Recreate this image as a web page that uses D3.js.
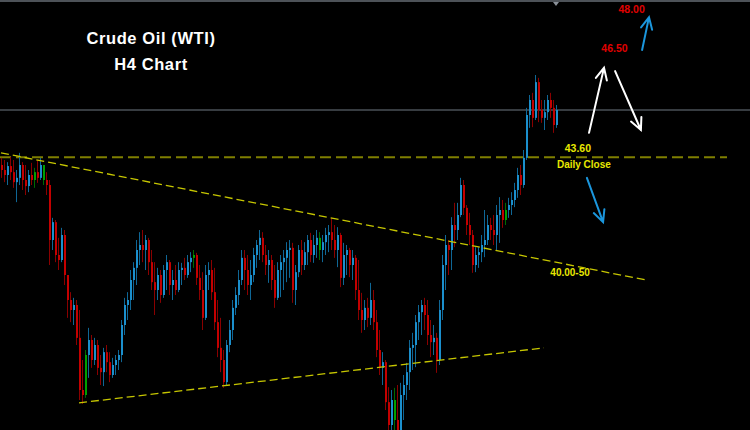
<!DOCTYPE html>
<html><head><meta charset="utf-8">
<script src="https://cdn.jsdelivr.net/npm/d3@7"></script>
<style>html,body{margin:0;padding:0;background:#000;overflow:hidden}svg{display:block}</style>
</head><body>
<svg id="c" width="750" height="430"></svg>
<script>
// ---- data (WTI crude, H4 candles) ----
const firstOpen = 43.38;
const highs = [43.58,43.52,43.46,43.60,43.52,43.24,43.72,43.46,43.38,43.24,43.44,43.30,43.52,43.58,43.38,43.18,
42.96,41.90,41.84,41.34,41.62,41.56,40.30,39.82,39.66,39.60,39.32,37.92,38.20,38.82,38.62,38.54,38.48,38.06,38.26,38.34,38.14,37.98,38.06,38.20,
39.04,39.66,39.82,40.44,40.66,41.28,41.50,41.56,41.42,41.34,41.00,40.66,40.50,40.44,40.58,40.86,40.72,40.44,40.58,40.66,
40.64,40.78,40.86,40.94,41.00,40.92,40.58,40.38,40.58,40.66,40.72,40.50,39.60,39.10,38.20,38.48,39.04,39.60,39.96,40.44,
41.00,41.00,40.86,40.72,41.06,41.28,41.56,41.50,41.14,41.00,40.86,40.58,40.66,40.86,41.00,41.22,41.28,41.20,40.58,41.14,
41.28,41.22,41.42,41.48,41.42,41.56,41.50,41.42,41.62,41.70,41.90,41.70,41.64,41.48,41.20,41.14,41.06,41.00,40.86,40.72,
39.80,39.60,39.66,40.08,39.88,39.32,38.76,38.14,37.92,37.16,37.08,37.14,37.22,37.28,37.50,37.84,38.48,38.68,39.18,39.46,
39.60,39.66,39.60,39.04,38.90,38.68,39.60,40.86,41.42,41.28,41.92,42.32,42.32,43.02,42.96,42.26,42.04,41.56,41.08,41.08,
41.42,42.12,41.98,41.90,41.98,42.26,42.48,42.40,42.32,42.46,42.62,42.88,43.30,43.38,43.80,44.98,45.34,45.40,45.90,45.82,
45.20,45.20,45.34,45.40,45.20,45.06];
const lows = [43.02,42.90,42.82,42.96,42.74,42.34,42.82,42.68,42.54,42.62,42.82,42.74,42.88,42.96,42.82,42.54,
40.58,41.00,40.66,40.44,40.66,40.02,39.10,38.98,38.90,38.34,36.80,36.69,36.86,37.42,37.70,37.78,37.50,37.22,37.19,37.58,37.30,37.42,37.50,37.64,
37.86,38.62,39.04,39.32,39.60,40.02,40.58,40.66,40.44,40.30,39.88,39.18,39.60,39.52,39.66,39.88,39.74,39.60,39.74,39.82,
40.02,40.16,40.22,40.38,40.50,40.02,39.60,38.76,39.04,39.88,39.60,38.76,38.00,37.58,37.14,37.22,38.14,38.48,39.18,39.46,
40.02,39.88,39.74,39.60,40.10,40.50,40.72,40.66,40.30,40.08,39.88,39.38,39.60,39.68,39.88,40.10,40.22,39.52,39.46,40.24,
40.30,40.44,40.58,40.66,40.64,40.78,40.72,40.66,40.86,40.94,41.00,40.78,40.52,39.96,40.02,40.30,40.24,40.16,39.60,39.04,
38.68,38.76,38.84,38.90,38.76,38.00,37.50,37.22,36.52,35.68,35.68,35.82,35.68,35.68,36.24,36.80,37.08,37.64,37.72,38.48,
38.62,38.76,38.34,38.00,38.06,37.56,37.78,39.04,39.88,40.30,40.44,41.08,41.28,41.92,41.98,41.42,41.14,40.36,40.38,40.50,
40.66,40.80,41.14,41.28,41.14,41.00,41.20,41.62,41.70,41.90,41.98,42.20,42.46,42.54,42.74,43.52,44.42,44.44,44.64,44.58,
44.56,44.36,44.64,44.70,44.28,44.42];
const closes = [43.24,43.10,43.35,43.18,42.90,43.02,43.38,42.96,42.79,43.10,42.96,43.18,43.02,43.38,42.96,42.82,
41.28,41.78,40.86,40.72,41.42,40.30,39.60,39.32,39.46,38.54,37.08,36.94,38.06,38.48,37.92,38.34,37.70,37.58,38.14,37.86,37.50,37.78,37.92,38.06,
38.90,39.46,39.60,40.16,40.50,41.00,41.14,41.00,41.28,40.66,40.10,39.88,40.30,39.74,40.44,40.66,40.02,40.16,39.88,40.44,
40.50,40.30,40.66,40.78,40.86,40.22,39.88,39.10,40.30,40.44,39.82,38.98,38.26,37.92,37.30,38.34,38.76,39.38,39.74,40.16,
40.78,40.44,40.02,40.30,40.86,41.14,41.34,40.86,40.58,40.72,40.16,39.66,40.44,40.66,40.78,41.00,41.06,39.88,40.38,41.00,
40.58,40.94,41.28,40.86,41.14,41.34,41.00,41.22,41.42,41.50,41.28,41.00,41.42,40.22,40.86,41.00,40.58,40.78,39.88,39.32,
39.04,39.38,39.10,39.60,38.98,38.20,37.70,37.86,36.74,36.10,36.80,36.24,35.96,36.94,37.22,37.58,38.26,38.34,38.98,39.26,
39.46,39.18,38.62,38.42,38.54,37.92,39.32,40.58,41.14,41.00,41.70,41.56,41.98,42.82,42.18,41.70,41.42,40.58,40.86,40.94,
41.14,41.28,41.70,41.56,41.42,41.98,42.12,41.84,42.12,42.26,42.40,42.68,43.10,42.82,43.58,44.78,45.20,44.70,45.70,44.92,
44.70,44.86,45.20,44.98,44.50,44.92];
const neutralCandles = [11, 14, 28, 64, 106, 131, 168];   // drawn green
const currentPrice = 44.92;
const dailyClose = 43.60;
// trend lines: [index, price]
const resistanceLine = [[0, 43.72], [215, 40.16]];
const supportLine = [[26, 36.72], [181, 38.26]];
// arrows: [index0, price0, index1, price1]
const whiteArrows = [[196, 44.28, 201, 46.10], [204.7, 46.01, 213.3, 44.36]];
const blueArrows = [[213.7, 46.60, 216, 47.52], [195.3, 43.02, 200.7, 41.78]];
// labels: [text, index, price, colour, size]
const labels = [
  ["43.60", 192.3, 43.74, "#e8e800", 10.5],
  ["Daily Close", 194.3, 43.29, "#e8e800", 10],
  ["40.00-50", 189.7, 40.26, "#e8e800", 10],
  ["46.50", 204.5, 46.54, "#e00000", 10.5],
  ["48.00", 210.2, 47.64, "#e00000", 10.5]
];
const titleLines = ["Crude Oil (WTI)", "H4 Chart"];

// ---- drawing ----
const W = 750, H = 430;
const svg = d3.select("#c");
svg.append("rect").attr("width", W).attr("height", H).attr("fill", "#000");

const x = d3.scaleLinear().domain([0, 185]).range([1, 556]);
const y = d3.scaleLinear().domain([35.96, 48]).range([H, 0]);

const candles = closes.map((c, i) => ({
  i, open: i === 0 ? firstOpen : closes[i - 1], close: c, high: highs[i], low: lows[i]
}));
function kind(d) {
  if (neutralCandles.includes(d.i)) return "g";
  return d.close >= d.open ? "u" : "d";
}
const bodyCol = {u: "#1b8fcc", d: "#c40000", g: "#00a000"};
const wickCol = {u: "#0f6796", d: "#8a0000", g: "#006a00"};

// top border
svg.append("rect").attr("x", 0).attr("y", 0).attr("width", W).attr("height", 2).attr("fill", "#4d5258");
svg.append("path").attr("d", `M${x(185) - 3},2 L${x(185) + 3},2 L${x(185)},6 Z`).attr("fill", "#8a9098");

// current price line
svg.append("line").attr("x1", 0).attr("x2", W).attr("y1", y(currentPrice)).attr("y2", y(currentPrice))
  .attr("stroke", "#6f7882").attr("stroke-width", 1);

// daily close dashed
svg.append("line").attr("x1", 0).attr("x2", x(242)).attr("y1", y(dailyClose)).attr("y2", y(dailyClose))
  .attr("stroke", "#7f7f00").attr("stroke-width", 2).attr("stroke-dasharray", "11,5");

const g = svg.append("g");
g.selectAll("line.w").data(candles).join("line").attr("class", "w")
  .attr("x1", d => Math.round(x(d.i)) + 0.5).attr("x2", d => Math.round(x(d.i)) + 0.5)
  .attr("y1", d => y(d.high)).attr("y2", d => y(d.low))
  .attr("stroke", d => wickCol[kind(d)]).attr("stroke-width", 1);
g.selectAll("rect.b").data(candles).join("rect").attr("class", "b")
  .attr("x", d => Math.round(x(d.i)))
  .attr("width", 2)
  .attr("y", d => y(Math.max(d.open, d.close)))
  .attr("height", d => Math.max(1, Math.abs(y(d.open) - y(d.close))))
  .attr("fill", d => bodyCol[kind(d)]);

// trend lines
const ln = d3.line().x(d => x(d[0])).y(d => y(d[1]));
svg.append("path").attr("d", ln(resistanceLine)).attr("fill", "none")
  .attr("stroke", "#c6c600").attr("stroke-width", 1.3).attr("stroke-dasharray", "8,4");
svg.append("path").attr("d", ln(supportLine)).attr("fill", "none")
  .attr("stroke", "#c6c600").attr("stroke-width", 1.3).attr("stroke-dasharray", "8,4");

// arrows
function arrow(a, col) {
  const x0 = x(a[0]), y0 = y(a[1]), x1 = x(a[2]), y1 = y(a[3]);
  const ang = Math.atan2(y1 - y0, x1 - x0), L = 13, sp = 0.45;
  const p1 = [x1 - L * Math.cos(ang - sp), y1 - L * Math.sin(ang - sp)];
  const p2 = [x1 - L * Math.cos(ang + sp), y1 - L * Math.sin(ang + sp)];
  svg.append("path")
    .attr("d", `M${x0},${y0}L${x1},${y1}M${p1[0]},${p1[1]}L${x1},${y1}L${p2[0]},${p2[1]}`)
    .attr("fill", "none").attr("stroke", col).attr("stroke-width", 2).attr("stroke-linecap", "round");
}
whiteArrows.forEach(a => arrow(a, "#ffffff"));
blueArrows.forEach(a => arrow(a, "#1b96dc"));

// labels
svg.selectAll("text.lab").data(labels).join("text").attr("class", "lab")
  .attr("x", d => x(d[1])).attr("y", d => y(d[2]))
  .attr("text-anchor", "middle")
  .attr("font-family", "Liberation Sans, Arial, sans-serif").attr("font-weight", "bold")
  .attr("font-size", d => d[4]).attr("fill", d => d[3]).text(d => d[0]);

svg.selectAll("text.t").data(titleLines).join("text").attr("class", "t")
  .attr("x", 151).attr("y", (d, i) => 44 + i * 26)
  .attr("text-anchor", "middle")
  .attr("font-family", "Liberation Sans, Arial, sans-serif").attr("font-weight", "bold")
  .attr("font-size", 16.5).attr("letter-spacing", 0.6).attr("fill", "#ffffff").text(d => d);
</script>
</body></html>
